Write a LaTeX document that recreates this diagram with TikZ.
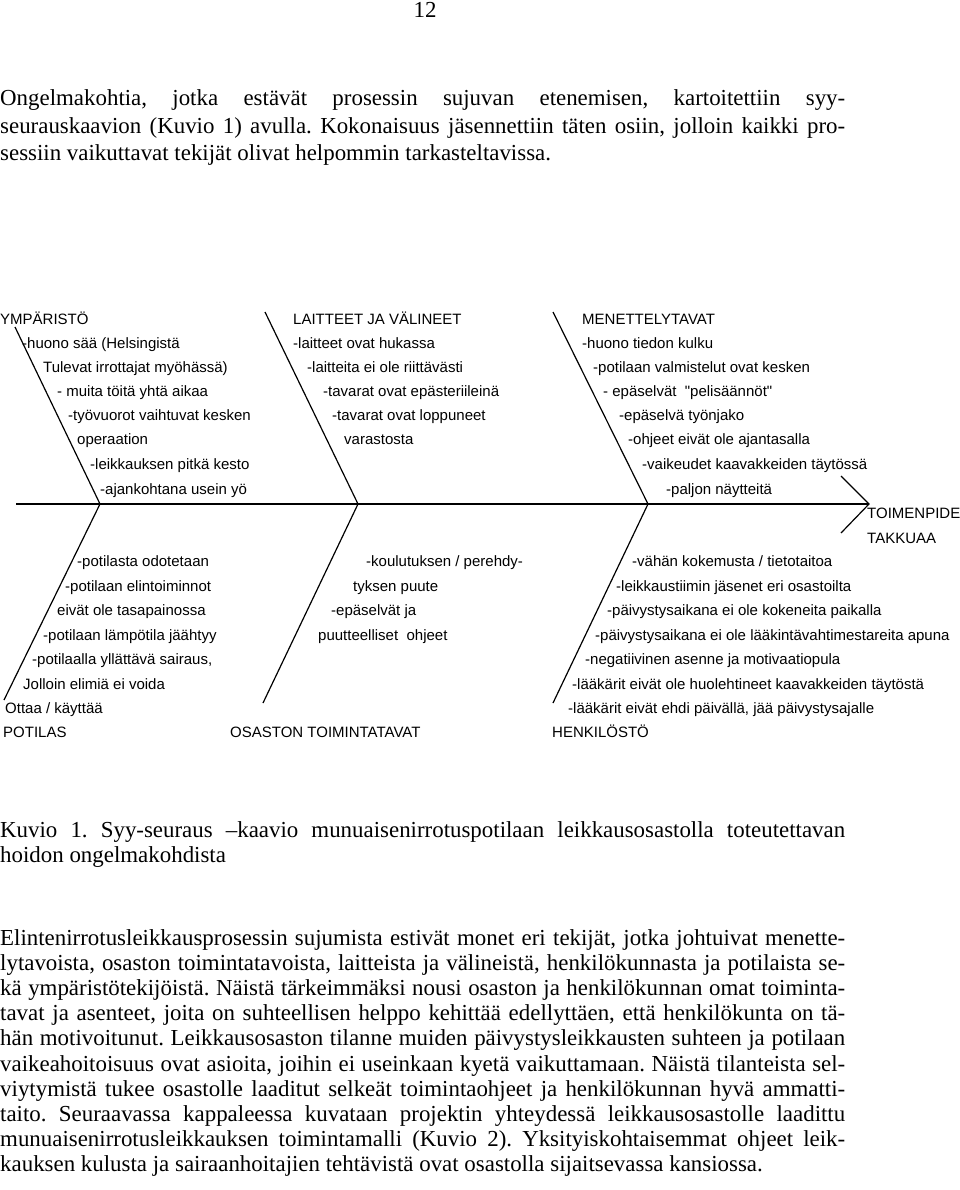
\documentclass[tikz,border=0pt]{standalone}
\usepackage{fontspec}
\setmainfont{Liberation Serif}
\newfontfamily\diagfont{Liberation Sans}
\frenchspacing
\begin{document}
\begin{tikzpicture}[x=1pt,y=-1pt,
  bodytext/.style={anchor=base west,inner sep=0pt,font=\fontsize{22.9}{27}\selectfont},
  dtext/.style={anchor=base west,inner sep=0pt,font=\diagfont\fontsize{15}{18}\selectfont},
  bone/.style={line width=1.2pt,black}]
\useasboundingbox (0,0) rectangle (960,1190);
% page number
\node[anchor=base,inner sep=0pt,font=\fontsize{22.9}{27}\selectfont] (pg) at (425,18) {12};
% top paragraph
\node[bodytext] (p1) at (0,106) {\makebox[845pt][s]{Ongelmakohtia, jotka estävät prosessin sujuvan etenemisen, kartoitettiin syy-}};
\node[bodytext] (p2) at (0,133.5) {\makebox[845pt][s]{seurauskaavion (Kuvio 1) avulla. Kokonaisuus jäsennettiin täten osiin, jolloin kaikki pro-}};
\node[bodytext] (p3) at (0,161) {sessiin vaikuttavat tekijät olivat helpommin tarkasteltavissa.};
% fishbone coordinates
\coordinate (s0) at (16,504);
\coordinate (tip) at (869,504);
\coordinate (j1) at (100,504);
\coordinate (j2) at (358,504);
\coordinate (j3) at (648,504);
\coordinate (u1) at (15,327);
\coordinate (u2) at (265,312);
\coordinate (u3) at (553,312);
\coordinate (d1) at (4,700);
\coordinate (d2) at (263,703);
\coordinate (d3) at (553,703);
\coordinate (a1) at (841,476);
\coordinate (a2) at (841,533);
\draw[bone] (s0) -- (tip);
\draw[bone] (u1) -- (j1) -- (d1);
\draw[bone] (u2) -- (j2) -- (d2);
\draw[bone] (u3) -- (j3) -- (d3);
\draw[bone] (a1) -- (tip) -- (a2);
% column 1 top
\node[dtext] (c1h) at (0,324) {YMPÄRISTÖ};
\node[dtext] (c1a) at (22,348) {-huono sää (Helsingistä};
\node[dtext] (c1b) at (43,372) {Tulevat irrottajat myöhässä)};
\node[dtext] (c1c) at (57,396) {- muita töitä yhtä aikaa};
\node[dtext] (c1d) at (68,420) {-työvuorot vaihtuvat kesken};
\node[dtext] (c1e) at (77,444) {operaation};
\node[dtext] (c1f) at (90,469) {-leikkauksen pitkä kesto};
\node[dtext] (c1g) at (100,494) {-ajankohtana usein yö};
% column 2 top
\node[dtext] (c2h) at (293,324) {LAITTEET JA VÄLINEET};
\node[dtext] (c2a) at (293,348) {-laitteet ovat hukassa};
\node[dtext] (c2b) at (307,372) {-laitteita ei ole riittävästi};
\node[dtext] (c2c) at (323,396) {-tavarat ovat epästeriileinä};
\node[dtext] (c2d) at (332,420) {-tavarat ovat loppuneet};
\node[dtext] (c2e) at (344,444) {varastosta};
% column 3 top
\node[dtext] (c3h) at (582,324) {MENETTELYTAVAT};
\node[dtext] (c3a) at (582,348) {-huono tiedon kulku};
\node[dtext] (c3b) at (593,372) {-potilaan valmistelut ovat kesken};
\node[dtext] (c3c) at (603,396) {- epäselvät\ \ "pelisäännöt"};
\node[dtext] (c3d) at (619,420) {-epäselvä työnjako};
\node[dtext] (c3e) at (628,444) {-ohjeet eivät ole ajantasalla};
\node[dtext] (c3f) at (642,469) {-vaikeudet kaavakkeiden täytössä};
\node[dtext] (c3g) at (666,494) {-paljon näytteitä};
% effect
\node[dtext] (ef1) at (867,518) {TOIMENPIDE};
\node[dtext] (ef2) at (867,543) {TAKKUAA};
% column 1 bottom
\node[dtext] (b1a) at (77,566) {-potilasta odotetaan};
\node[dtext] (b1b) at (65,591) {-potilaan elintoiminnot};
\node[dtext] (b1c) at (57,615) {eivät ole tasapainossa};
\node[dtext] (b1d) at (43,640) {-potilaan lämpötila jäähtyy};
\node[dtext] (b1e) at (32,664) {-potilaalla yllättävä sairaus,};
\node[dtext] (b1f) at (23,689) {Jolloin elimiä ei voida};
\node[dtext] (b1g) at (5,713) {Ottaa / käyttää};
\node[dtext] (b1h) at (3,737) {POTILAS};
% column 2 bottom
\node[dtext] (b2a) at (366,566) {-koulutuksen / perehdy-};
\node[dtext] (b2b) at (353,591) {tyksen puute};
\node[dtext] (b2c) at (331,615) {-epäselvät ja};
\node[dtext] (b2d) at (318,640) {puutteelliset\ \ ohjeet};
\node[dtext] (b2h) at (230,737) {OSASTON TOIMINTATAVAT};
% column 3 bottom
\node[dtext] (b3a) at (632,566) {-vähän kokemusta / tietotaitoa};
\node[dtext] (b3b) at (616,591) {-leikkaustiimin jäsenet eri osastoilta};
\node[dtext] (b3c) at (607,615) {-päivystysaikana ei ole kokeneita paikalla};
\node[dtext] (b3d) at (595,640) {-päivystysaikana ei ole lääkintävahtimestareita apuna};
\node[dtext] (b3e) at (585,664) {-negatiivinen asenne ja motivaatiopula};
\node[dtext] (b3f) at (572,689) {-lääkärit eivät ole huolehtineet kaavakkeiden täytöstä};
\node[dtext] (b3g) at (568,713) {-lääkärit eivät ehdi päivällä, jää päivystysajalle};
\node[dtext] (b3h) at (552,737) {HENKILÖSTÖ};
% caption
\node[bodytext] (k1) at (0,837) {\makebox[845pt][s]{Kuvio 1. Syy-seuraus –kaavio munuaisenirrotuspotilaan leikkausosastolla toteutettavan}};
\node[bodytext] (k2) at (0,862) {hoidon ongelmakohdista};
% bottom paragraph
\node[bodytext] (q1) at (0,945) {\makebox[845pt][s]{Elintenirrotusleikkausprosessin sujumista estivät monet eri tekijät, jotka johtuivat menette-}};
\node[bodytext] (q2) at (0,970.2) {\makebox[845pt][s]{lytavoista, osaston toimintatavoista, laitteista ja välineistä, henkilökunnasta ja potilaista se-}};
\node[bodytext] (q3) at (0,995.4) {\makebox[845pt][s]{kä ympäristötekijöistä. Näistä tärkeimmäksi nousi osaston ja henkilökunnan omat toiminta-}};
\node[bodytext] (q4) at (0,1020.6) {\makebox[845pt][s]{tavat ja asenteet, joita on suhteellisen helppo kehittää edellyttäen, että henkilökunta on tä-}};
\node[bodytext] (q5) at (0,1045.8) {\makebox[845pt][s]{hän motivoitunut. Leikkausosaston tilanne muiden päivystysleikkausten suhteen ja potilaan}};
\node[bodytext] (q6) at (0,1071) {\makebox[845pt][s]{vaikeahoitoisuus ovat asioita, joihin ei useinkaan kyetä vaikuttamaan. Näistä tilanteista sel-}};
\node[bodytext] (q7) at (0,1096.2) {\makebox[845pt][s]{viytymistä tukee osastolle laaditut selkeät toimintaohjeet ja henkilökunnan hyvä ammatti-}};
\node[bodytext] (q8) at (0,1121.4) {\makebox[845pt][s]{taito. Seuraavassa kappaleessa kuvataan projektin yhteydessä leikkausosastolle laadittu}};
\node[bodytext] (q9) at (0,1146.6) {\makebox[845pt][s]{munuaisenirrotusleikkauksen toimintamalli (Kuvio 2). Yksityiskohtaisemmat ohjeet leik-}};
\node[bodytext] (q10) at (0,1171.8) {kauksen kulusta ja sairaanhoitajien tehtävistä ovat osastolla sijaitsevassa kansiossa.};
\end{tikzpicture}
\end{document}
